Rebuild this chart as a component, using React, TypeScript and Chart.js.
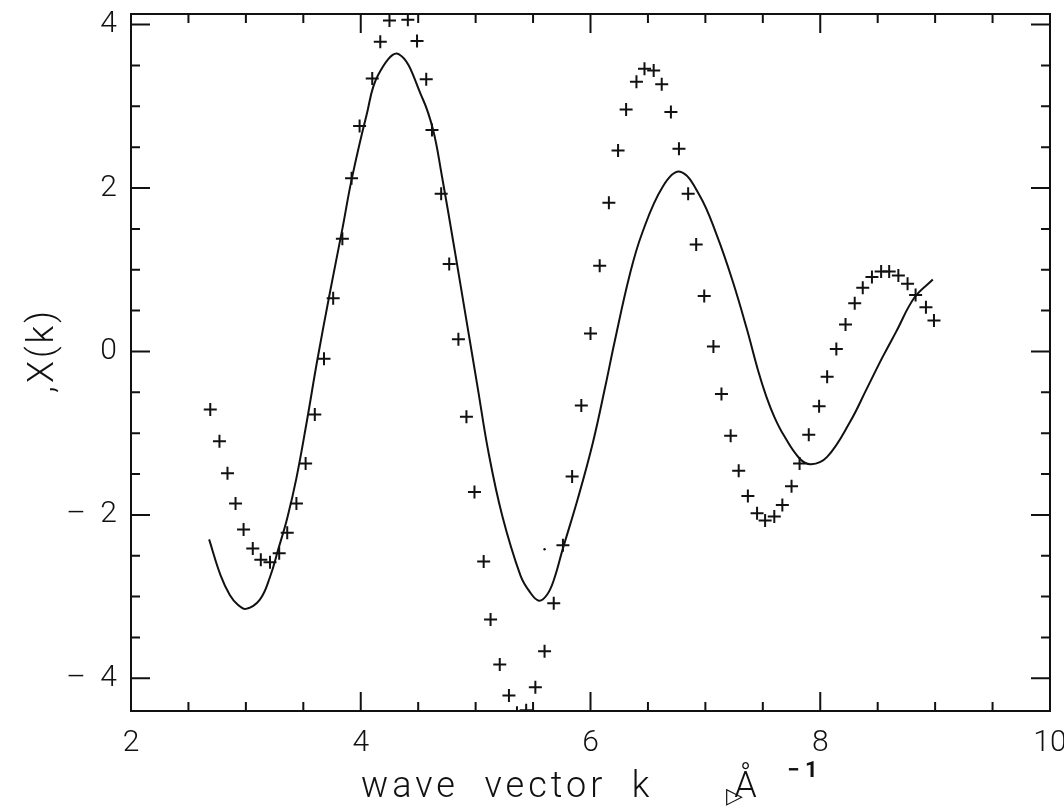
import { useEffect, useRef } from "react";
import { Chart, registerables } from "chart.js";

Chart.register(...registerables);

// Measured EXAFS oscillations chi(k), plotted as crosses
const dataK = [
  2.69, 2.77, 2.84, 2.91, 2.98, 3.06, 3.13, 3.21, 3.29, 3.36,
  3.44, 3.52, 3.60, 3.68, 3.76, 3.84, 3.92, 3.99, 4.10, 4.17,
  4.25, 4.41, 4.49, 4.57, 4.62, 4.70, 4.77, 4.85, 4.92, 4.99,
  5.07, 5.13, 5.21, 5.29, 5.36, 5.44, 5.52, 5.60, 5.68, 5.76,
  5.84, 5.92, 6.00, 6.08, 6.16, 6.24, 6.31, 6.40, 6.47, 6.55,
  6.62, 6.70, 6.77, 6.85, 6.92, 6.99, 7.07, 7.14, 7.22, 7.29,
  7.37, 7.45, 7.52, 7.60, 7.67, 7.75, 7.82, 7.90, 7.99, 8.06,
  8.14, 8.22, 8.30, 8.37, 8.45, 8.53, 8.60, 8.68, 8.76, 8.83,
  8.92, 8.99,
];
const dataChi = [
  -0.71, -1.10, -1.49, -1.86, -2.18, -2.41, -2.55, -2.58, -2.47, -2.22,
  -1.86, -1.37, -0.77, -0.09, 0.65, 1.38, 2.12, 2.76, 3.34, 3.79,
  4.05, 4.06, 3.80, 3.33, 2.71, 1.93, 1.07, 0.15, -0.80, -1.72,
  -2.57, -3.28, -3.83, -4.21, -4.42, -4.39, -4.11, -3.67, -3.08, -2.37,
  -1.53, -0.66, 0.22, 1.05, 1.82, 2.46, 2.96, 3.30, 3.46, 3.44,
  3.27, 2.93, 2.48, 1.93, 1.31, 0.68, 0.06, -0.52, -1.03, -1.46,
  -1.77, -1.98, -2.07, -2.02, -1.88, -1.65, -1.37, -1.02, -0.67, -0.31,
  0.03, 0.33, 0.59, 0.78, 0.91, 0.98, 0.98, 0.93, 0.83, 0.69,
  0.54, 0.38,
];

// Fitted model chi(k), plotted as a solid curve
const fitK = [
  2.68, 2.78, 2.86, 2.93, 3.00, 3.12, 3.21, 3.28, 3.36, 3.44,
  3.53, 3.62, 3.73, 3.84, 3.92, 4.05, 4.15, 4.33, 4.54, 4.63,
  4.70, 4.82, 4.92, 5.02, 5.11, 5.23, 5.39, 5.47, 5.55, 5.62,
  5.68, 5.76, 5.89, 6.02, 6.13, 6.21, 6.34, 6.45, 6.63, 6.78,
  6.95, 7.10, 7.24, 7.36, 7.46, 7.53, 7.60, 7.68, 7.82, 7.92,
  8.06, 8.26, 8.40, 8.52, 8.58, 8.66, 8.82, 8.98,
];
const fitChi = [
  -2.30, -2.74, -2.98, -3.10, -3.15, -3.04, -2.76, -2.43, -2.04, -1.55,
  -0.86, -0.12, 0.71, 1.50, 2.10, 2.89, 3.38, 3.64, 3.09, 2.71,
  2.20, 1.22, 0.38, -0.46, -1.22, -2.00, -2.74, -2.94, -3.05, -2.98,
  -2.80, -2.41, -1.80, -1.12, -0.42, 0.12, 0.93, 1.45, 2.02, 2.20,
  1.91, 1.42, 0.85, 0.28, -0.24, -0.55, -0.80, -1.02, -1.31, -1.38,
  -1.29, -0.86, -0.47, -0.13, 0.03, 0.24, 0.66, 0.88,
];

// Lone stray point
const speckK = [5.60];
const speckChi = [-2.42];

const xTickValues = [2, 4, 6, 8, 10];
const xTickLabels = ["2", "4", "6", "8", "10"];
const yTickValues = [-4, -2, 0, 2, 4];
const yTickLabels = ["\u2013  4", "\u2013  2", "0", "2", "4"];
const xMinorTicks = [2, 2.5, 3, 3.5, 4, 4.5, 5, 5.5, 6, 6.5, 7, 7.5, 8, 8.5, 9, 9.5, 10];
const yMinorTicks = [-4, -3.5, -3, -2.5, -2, -1.5, -1, -0.5, 0, 0.5, 1, 1.5, 2, 2.5, 3, 3.5, 4];

const INK = "#111111";
const FONT = "Roboto";

// Frame around the plot with inward ticks on all four sides
const frameTicks = {
  id: "frameTicks",
  afterDatasetsDraw(chart: any) {
    const { ctx, chartArea: a, scales } = chart;
    const xs = scales.x;
    const ys = scales.y;
    const major = 19;
    const minor = 9;
    ctx.save();
    ctx.strokeStyle = INK;
    ctx.lineWidth = 2;
    ctx.strokeRect(a.left, a.top, a.right - a.left, a.bottom - a.top);
    ctx.beginPath();
    for (const v of xMinorTicks) {
      const px = xs.getPixelForValue(v);
      const len = xTickValues.includes(v) ? major : minor;
      ctx.moveTo(px, a.bottom);
      ctx.lineTo(px, a.bottom - len);
      ctx.moveTo(px, a.top);
      ctx.lineTo(px, a.top + len);
    }
    for (const v of yMinorTicks) {
      const py = ys.getPixelForValue(v);
      const len = yTickValues.includes(v) ? major : minor;
      ctx.moveTo(a.left, py);
      ctx.lineTo(a.left + len, py);
      ctx.moveTo(a.right, py);
      ctx.lineTo(a.right - len, py);
    }
    ctx.stroke();
    ctx.restore();
  },
};

// Axis titles: "wave vector k  Å⁻¹" below, ",X(k)" on the left
const axisTitles = {
  id: "axisTitles",
  afterDraw(chart: any) {
    const { ctx, chartArea: a } = chart;
    const cx = (a.left + a.right) / 2;
    ctx.save();
    ctx.fillStyle = INK;
    ctx.font = `300 36px ${FONT}`;
    (ctx as any).letterSpacing = "4px";
    ctx.textBaseline = "alphabetic";
    ctx.textAlign = "right";
    ctx.fillText("wave  vector  k", cx + 63, a.bottom + 86);
    ctx.textAlign = "center";
    (ctx as any).letterSpacing = "0px";
    ctx.fillText("\u00C5", cx + 155, a.bottom + 86);
    ctx.font = `700 22px ${FONT}`;
    ctx.fillText("\u2212 1", cx + 212, a.bottom + 66);
    ctx.font = `22px "DejaVu Sans"`;
    ctx.fillText("\u25B7", cx + 144, a.bottom + 92);

    ctx.translate(53, (a.top + a.bottom) / 2 - 12);
    ctx.rotate(-Math.PI / 2);
    ctx.font = `300 36px ${FONT}`;
    (ctx as any).letterSpacing = "3px";
    ctx.textAlign = "center";
    ctx.fillText(",X(k)", 0, 0);
    ctx.restore();
  },
};

export default function App() {
  const canvasRef = useRef<HTMLCanvasElement | null>(null);

  useEffect(() => {
    const canvas = canvasRef.current;
    if (!canvas) return;

    const crosses = dataK.map((k, i) => ({ x: k, y: dataChi[i] }));
    const fit = fitK.map((k, i) => ({ x: k, y: fitChi[i] }));
    const speck = speckK.map((k, i) => ({ x: k, y: speckChi[i] }));

    const chart = new Chart(canvas, {
      type: "scatter",
      data: {
        datasets: [
          {
            label: "fit",
            data: fit,
            showLine: true,
            borderColor: INK,
            borderWidth: 2,
            pointRadius: 0,
            tension: 0.4,
            clip: 0,
          } as any,
          {
            label: "data",
            data: crosses,
            pointStyle: "cross",
            pointRadius: 6.5,
            borderColor: INK,
            backgroundColor: INK,
            borderWidth: 2,
            clip: 0,
          } as any,
          {
            label: "speck",
            data: speck,
            pointStyle: "circle",
            pointRadius: 1.2,
            borderWidth: 0,
            backgroundColor: INK,
          } as any,
        ],
      },
      options: {
        responsive: false,
        animation: false,
        devicePixelRatio: 1,
        layout: { padding: { left: 0, top: 14, right: 14, bottom: 0 } },
        plugins: {
          legend: { display: false },
          tooltip: { enabled: false },
          title: { display: false },
        },
        scales: {
          x: {
            type: "linear",
            min: 2,
            max: 10,
            grid: { display: false, drawTicks: false },
            border: { display: false },
            ticks: {
              padding: 14,
              color: INK,
              font: { family: FONT, size: 30, weight: "300" as any },
              maxRotation: 0,
              autoSkip: false,
              callback: (v: any) => {
                const i = xTickValues.indexOf(Number(v));
                return i >= 0 ? xTickLabels[i] : "";
              },
            },
            afterBuildTicks: (s: any) => {
              s.ticks = xTickValues.map((v) => ({ value: v }));
            },
            afterFit: (s: any) => {
              s.height = 97;
              s.paddingLeft = 0;
              s.paddingRight = 0;
            },
          },
          y: {
            type: "linear",
            min: -4.4,
            max: 4.13,
            grid: { display: false, drawTicks: false },
            border: { display: false },
            ticks: {
              padding: 14,
              color: INK,
              font: { family: FONT, size: 30, weight: "300" as any },
              autoSkip: false,
              callback: (v: any) => {
                const i = yTickValues.indexOf(Number(v));
                return i >= 0 ? yTickLabels[i] : "";
              },
            },
            afterBuildTicks: (s: any) => {
              s.ticks = yTickValues.map((v) => ({ value: v }));
            },
            afterFit: (s: any) => {
              s.width = 131;
              s.paddingTop = 0;
              s.paddingBottom = 0;
            },
          },
        },
      },
      plugins: [frameTicks, axisTitles],
    });

    return () => chart.destroy();
  }, []);

  return (
    <div style={{ position: "fixed", left: 0, top: 0, width: 1064, height: 808, background: "#ffffff" }}>
      <canvas ref={canvasRef} width={1064} height={808} />
    </div>
  );
}
